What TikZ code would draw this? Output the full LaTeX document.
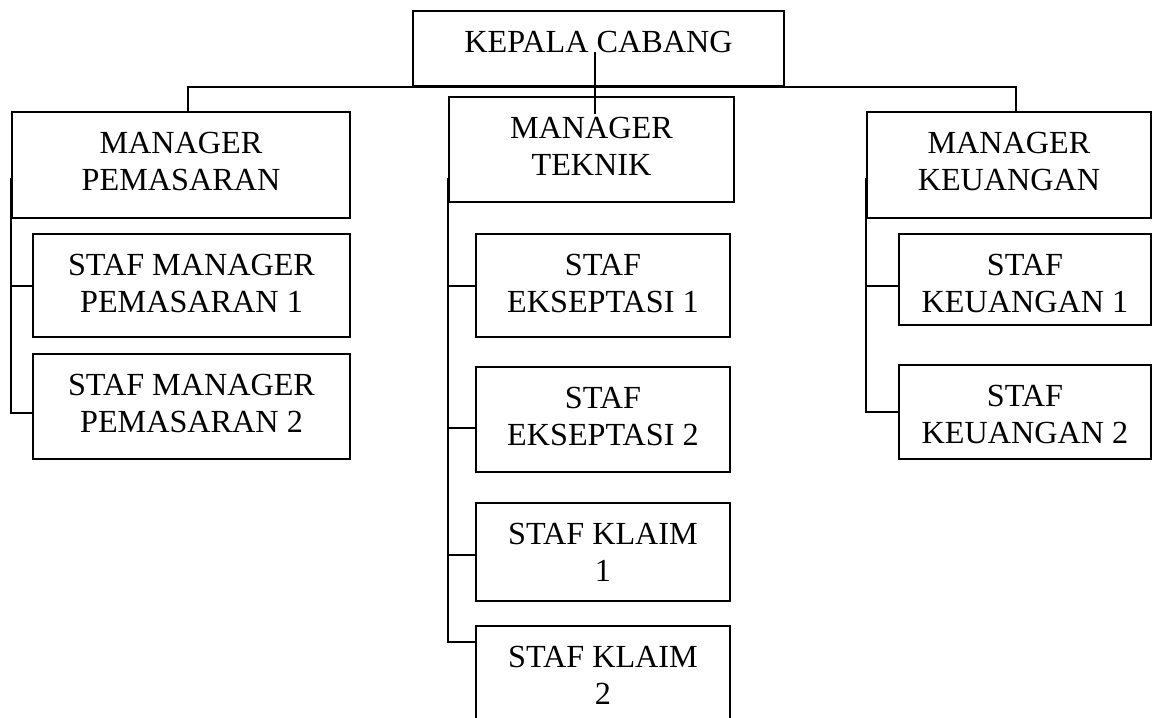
\documentclass[tikz,border=0pt]{standalone}
\usepackage{fontspec}
\setmainfont{Liberation Serif}
\usetikzlibrary{positioning,calc}
\tikzset{
  box/.style 2 args={rectangle, draw=black, line width=0.9pt, inner sep=0pt,
    minimum width=#1, minimum height=#2},
  txt/.style={anchor=north, yshift=-10.3pt, align=center, inner sep=0pt,
    font=\fontsize{16.1}{18.4}\selectfont},
  link/.style={draw=black, line width=0.9pt}
}

\begin{document}
\begin{tikzpicture}[x=0.5pt, y=-0.5pt]
  \useasboundingbox (0,0) rectangle (1154,717);
  \clip (0,0) rectangle (1154,717);

  \node[box={185.5pt}{37.5pt}, label={[txt]north:{KEPALA CABANG}}] (kc) at (598.5,48.5) {};
  \node[box={169pt}{53pt}, label={[txt]north:{MANAGER\\PEMASARAN}}] (mp) at (181,165) {};
  \node[box={142.5pt}{52.5pt}, label={[txt]north:{MANAGER\\TEKNIK}}] (mt) at (591.5,149.5) {};
  \node[box={142pt}{53pt}, label={[txt]north:{MANAGER\\KEUANGAN}}] (mk) at (1009,165) {};

  \node[box={158.5pt}{51.5pt}, label={[txt]north:{STAF MANAGER\\PEMASARAN 1}}] (smp1) at (191.5,285.5) {};
  \node[box={158.5pt}{52.5pt}, label={[txt]north:{STAF MANAGER\\PEMASARAN 2}}] (smp2) at (191.5,406.5) {};

  \node[box={127pt}{51.5pt}, label={[txt]north:{STAF\\EKSEPTASI 1}}] (se1) at (603,285.5) {};
  \node[box={127pt}{52.5pt}, label={[txt]north:{STAF\\EKSEPTASI 2}}] (se2) at (603,419.5) {};
  \node[box={127pt}{49pt}, label={[txt]north:{STAF KLAIM\\1}}] (sk1) at (603,552) {};
  \node[box={127pt}{51.5pt}, label={[txt]north:{STAF KLAIM\\2}}] (sk2) at (603,677.5) {};

  \node[box={126pt}{45.5pt}, label={[txt]north:{STAF\\KEUANGAN 1}}] (sku1) at (1025,279.5) {};
  \node[box={126pt}{47pt}, label={[txt]north:{STAF\\KEUANGAN 2}}] (sku2) at (1025,412) {};

  % top bar
  \draw[link] ([xshift=3.5pt]mp.north) |- (kc.south) -| ([xshift=3.5pt]mk.north);
  \coordinate (kcin) at ([xshift=-1.75pt,yshift=-1.75pt]kc.center);
  \draw[link] (kcin) -- ($(kcin |- mt.north)+(0,-9pt)$);

  % trunks
  \draw[link] ([yshift=20.5pt]mp.south west) |- ([yshift=-3.25pt]smp2.west);
  \draw[link] ([yshift=12.5pt]mt.south west) |- ([yshift=17.75pt]sk2.west);
  \draw[link] ([yshift=20.5pt]mk.south west) |- (sku2.west);

  % branches
  \foreach \a/\b/\s in {mp/smp1/-0.25, mt/se1/-0.25, mt/se2/-4.25, mt/sk1/-1.5, mk/sku1/-3.25} {
    \coordinate (e) at ([yshift=\s pt]\b.west);
    \draw[link] (\a.west |- e) -- (e);
  }
\end{tikzpicture}
\end{document}
